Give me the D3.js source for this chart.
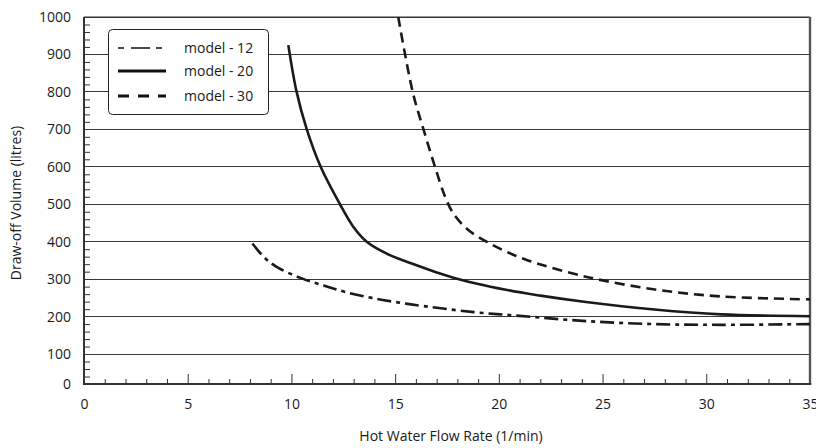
<!DOCTYPE html>
<html>
<head>
<meta charset="utf-8">
<script src="https://cdn.jsdelivr.net/npm/d3@7"></script>
<style>
  html, body { margin: 0; padding: 0; background: #fff; }
  svg { display: block; font-family: 'Open Sans', sans-serif; }
</style>
</head>
<body>
<svg id="chart" width="816" height="448"></svg>
<script>
// values
const model12X = [8.12, 8.73, 9.37, 10.5, 11.62, 12.58, 13.87, 15.6, 18.8, 21.0, 24.2, 27.5, 30.7, 35]
const model12Y = [395, 356, 330, 302, 282, 266, 250, 234, 212, 202, 188, 180, 178, 180]

const model20X = [9.85, 10.25, 10.74, 11.41, 12.34, 12.98, 13.63, 14.75, 15.5, 17.8, 20.4, 22.0, 24.2, 27.5, 30.7, 35]
const model20Y = [925, 800, 700, 600, 500, 440, 400, 364, 348, 304, 271, 256, 239, 219, 206, 201]

const model30X = [15.15, 15.85, 16.36, 16.92, 17.41, 17.81, 18.53, 19.41, 20.38, 21.4, 24.24, 27.45, 30.67, 35]
const model30Y = [1000, 799, 701, 600, 520, 475, 431, 400, 373, 350, 306, 273, 254, 246]

const seriesNames = ['model - 12', 'model - 20', 'model - 30']
const xTicks = [0, 5, 10, 15, 20, 25, 30, 35]
const yTicks = [0, 100, 200, 300, 400, 500, 600, 700, 800, 900, 1000]
const yFloor = 20   // the drawn x axis sits a little above zero in the original

const svg = d3.select('#chart')

const x = d3.scaleLinear().domain([0, 35]).range([84, 810])
const y = d3.scaleLinear().domain([0, 1000]).range([391.5, 17])
const base = y(yFloor)

const styles = [
    { w: 2.6, dash: '14,5,4,5', lw: 1.3, ldash: '6,7,19,6,6' },
    { w: 2.6, dash: null, lw: 3, ldash: null },
    { w: 2.6, dash: '10,6', lw: 3, ldash: '11,9' }
]

// grid lines
svg.append('g').selectAll('line.grid').data(yTicks.filter(function (v) { return v > 0 })).join('line')
    .attr('class', 'grid')
    .attr('x1', x(0)).attr('x2', x(35))
    .attr('y1', function (d) { return y(d) }).attr('y2', function (d) { return y(d) })
    .attr('stroke', '#3a3a3a').attr('stroke-width', 1).attr('shape-rendering', 'crispEdges')

// y minor ticks (inward)
const yMinor = d3.range(40, 1000, 20).filter(function (v) { return v % 100 !== 0 })
svg.append('g').attr('transform', 'translate(' + x(0) + ',0)')
    .call(d3.axisLeft(y).tickValues(yMinor).tickSize(-6).tickFormat(''))
    .call(function (g) { g.select('.domain').remove() })
    .selectAll('line').attr('stroke', '#333')

// y labels
svg.append('g').selectAll('text').data(yTicks).join('text')
    .attr('x', 71).attr('y', function (d) { return y(Math.max(d, yFloor)) })
    .attr('dy', '0.35em').attr('text-anchor', 'end')
    .attr('font-size', 14).attr('fill', '#1a1a1a')
    .text(function (d) { return d })

// x minor & major ticks (upward)
const xMinor = d3.range(1, 35).filter(function (v) { return v % 5 !== 0 })
svg.append('g').attr('transform', 'translate(0,' + base + ')')
    .call(d3.axisBottom(x).tickValues(xMinor).tickSize(-5).tickFormat(''))
    .call(function (g) { g.select('.domain').remove() })
    .selectAll('line').attr('stroke', '#333')
svg.append('g').attr('transform', 'translate(0,' + base + ')')
    .call(d3.axisBottom(x).tickValues(xTicks).tickSize(-10).tickPadding(15))
    .call(function (g) { g.select('.domain').remove() })
    .call(function (g) { g.selectAll('line').attr('stroke', '#333') })
    .call(function (g) { g.selectAll('text').attr('font-size', 14).attr('fill', '#1a1a1a').attr('font-family', "'Open Sans', sans-serif") })

// frame
svg.append('line').attr('x1', x(0)).attr('x2', x(35)).attr('y1', y(1000)).attr('y2', y(1000))
    .attr('stroke', '#333').attr('stroke-width', 1.2)
svg.append('line').attr('x1', x(0)).attr('x2', x(0)).attr('y1', y(1000)).attr('y2', base + 1)
    .attr('stroke', '#333').attr('stroke-width', 2)
svg.append('line').attr('x1', x(35)).attr('x2', x(35)).attr('y1', y(1000)).attr('y2', base + 1)
    .attr('stroke', '#555').attr('stroke-width', 2.4)
svg.append('line').attr('x1', x(0) - 1).attr('x2', x(35) + 1.2).attr('y1', base).attr('y2', base)
    .attr('stroke', '#333').attr('stroke-width', 2)

// curves
svg.append('clipPath').attr('id', 'plot-clip').append('rect')
    .attr('x', x(0)).attr('y', y(1000)).attr('width', x(35) - x(0)).attr('height', base - y(1000))

const series = [
    { xs: model12X, ys: model12Y },
    { xs: model20X, ys: model20Y },
    { xs: model30X, ys: model30Y }
]
const line = d3.line().x(function (d) { return x(d[0]) }).y(function (d) { return y(d[1]) }).curve(d3.curveCatmullRom.alpha(0.5))

svg.append('g').attr('clip-path', 'url(#plot-clip)')
    .selectAll('path.curve').data(series).join('path').attr('class', 'curve')
    .attr('fill', 'none').attr('stroke', '#1a1a1a')
    .attr('stroke-width', function (d, i) { return styles[i].w })
    .attr('stroke-dasharray', function (d, i) { return styles[i].dash })
    .attr('d', function (d) { return line(d.xs.map(function (v, k) { return [v, d.ys[k]] })) })

// legend
const lg = svg.append('g')
lg.append('rect').attr('x', 108.5).attr('y', 29.5).attr('width', 160).attr('height', 85).attr('rx', 4)
    .attr('fill', '#fff').attr('stroke', '#222').attr('stroke-width', 1)
const rowY = [48, 71, 96]
lg.selectAll('line.key').data(seriesNames).join('line').attr('class', 'key')
    .attr('x1', 118).attr('x2', 166)
    .attr('y1', function (d, i) { return rowY[i] }).attr('y2', function (d, i) { return rowY[i] })
    .attr('stroke', '#111')
    .attr('stroke-width', function (d, i) { return styles[i].lw })
    .attr('stroke-dasharray', function (d, i) { return styles[i].ldash })
lg.selectAll('text').data(seriesNames).join('text')
    .attr('x', 184).attr('y', function (d, i) { return rowY[i] }).attr('dy', '0.35em')
    .attr('font-size', 14).attr('fill', '#1a1a1a')
    .text(function (d) { return d })

// axis titles
svg.append('text').attr('x', 451).attr('y', 436).attr('dy', '0.35em').attr('text-anchor', 'middle')
    .attr('font-size', 14).attr('fill', '#1a1a1a').text('Hot Water Flow Rate (1/min)')
svg.append('text').attr('transform', 'translate(16,203) rotate(-90)').attr('dy', '0.35em').attr('text-anchor', 'middle')
    .attr('font-size', 14).attr('fill', '#1a1a1a').text('Draw-off Volume (litres)')
</script>
</body>
</html>
